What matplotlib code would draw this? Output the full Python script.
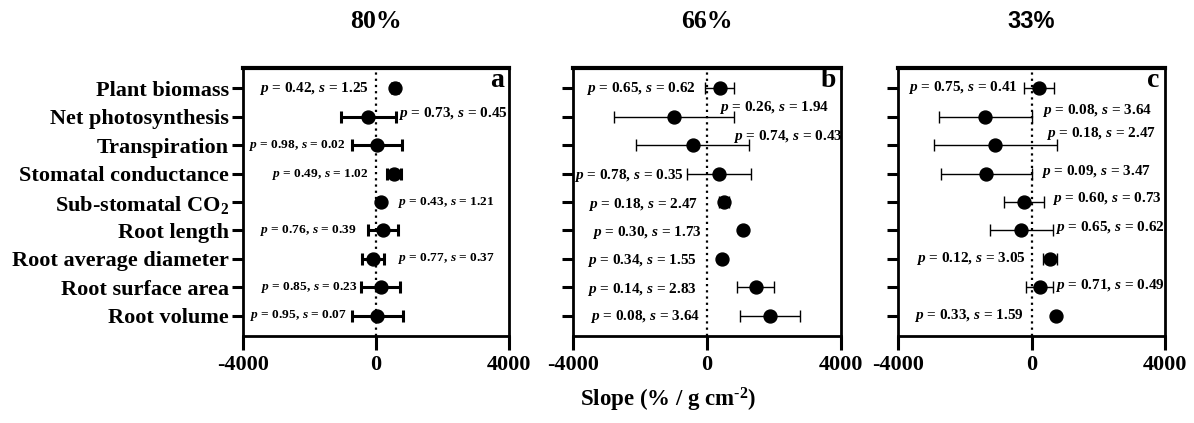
import matplotlib.pyplot as plt

plt.rcParams['font.family'] = 'Liberation Serif'
plt.rcParams['font.weight'] = 'bold'
plt.rcParams['mathtext.fontset'] = 'custom'
plt.rcParams['mathtext.rm'] = 'Liberation Serif:bold'
plt.rcParams['mathtext.it'] = 'Liberation Serif:italic:bold'
plt.rcParams['mathtext.bf'] = 'Liberation Serif:bold'

traits = ['Plant biomass', 'Net photosynthesis', 'Transpiration',
          'Stomatal conductance', r'Sub-stomatal CO$_2$', 'Root length',
          'Root average diameter', 'Root surface area', 'Root volume']

# slope estimates and error half-widths for each water level
slope_80 = [570, -230, 30, 540, 140, 200, -80, 140, 40]
err_80 = [80, 820, 760, 210, 40, 450, 330, 580, 760]
p_80 = ['0.42', '0.73', '0.98', '0.49', '0.43', '0.76', '0.77', '0.85', '0.95']
s_80 = ['1.25', '0.45', '0.02', '1.02', '1.21', '0.39', '0.37', '0.23', '0.07']

slope_66 = [380, -985, -430, 360, 510, 1065, 440, 1450, 1880]
err_66 = [440, 1800, 1690, 960, 150, 40, 40, 540, 900]
p_66 = ['0.65', '0.26', '0.74', '0.78', '0.18', '0.30', '0.34', '0.14', '0.08']
s_66 = ['0.62', '1.94', '0.43', '0.35', '2.47', '1.73', '1.55', '2.83', '3.64']

slope_33 = [220, -1380, -1080, -1350, -230, -300, 560, 240, 720]
err_33 = [440, 1390, 1830, 1370, 600, 950, 210, 390, 40]
p_33 = ['0.75', '0.08', '0.18', '0.09', '0.60', '0.65', '0.12', '0.71', '0.33']
s_33 = ['0.41', '3.64', '2.47', '3.47', '0.73', '0.62', '3.05', '0.49', '1.59']

titles = ['80%', '66%', '33%']
letters = ['a', 'b', 'c']

# where each p/s annotation sits: x anchor, vertical nudge (rows), side, font size
lab_x = [[-230, 670, -930, -230, 670, -580, 650, -550, -880],
         [-340, 360, 775, -690, -260, -160, -310, -310, -220],
         [-410, 310, 440, 270, 610, 710, -160, 710, -260]]
lab_dy = [[0, -0.1, 0, 0.03, 0, 0, 0, 0, 0],
          [0, -0.33, -0.3, 0.06, 0.1, 0.08, 0.05, 0.07, 0.03],
          [-0.03, -0.24, -0.42, -0.08, -0.14, -0.1, 0, -0.07, 0]]
lab_ha = [['right', 'left', 'right', 'right', 'left', 'right', 'left', 'right', 'right'],
          ['right', 'left', 'left', 'right', 'right', 'right', 'right', 'right', 'right'],
          ['right', 'left', 'left', 'left', 'left', 'left', 'right', 'left', 'right']]
lab_size = [[11, 11, 9.6, 9.6, 9.6, 9.6, 9.6, 9.6, 9.6],
            [11] * 9,
            [11] * 9]

panels = [(slope_80, err_80, p_80, s_80),
          (slope_66, err_66, p_66, s_66),
          (slope_33, err_33, p_33, s_33)]
bar_lw = [2.2, 1.0, 1.0]

# the two first headings are set in serif, the last one in sans
title_font = [['Liberation Serif'], ['Liberation Serif'], ['Liberation Sans']]
title_size = [18.5, 18.5, 17]

fig = plt.figure(figsize=(11.94, 4.23), dpi=100)
lefts = [243, 573, 898]
widths = [266, 268, 267]
ypos = list(range(len(traits)))

for k, (slope, err, pv, sv) in enumerate(panels):
    ax = fig.add_axes([lefts[k] / 1194, 87 / 423, widths[k] / 1194, 268 / 423])
    ax.axvline(0, color='black', lw=1.6, ls=(0, (1, 1.8)), zorder=1)
    ax.errorbar(slope, ypos, xerr=err, fmt='o', color='black', ms=9.3,
                elinewidth=bar_lw[k], capsize=4.4, capthick=bar_lw[k], zorder=3)
    for i in range(len(traits)):
        ax.text(lab_x[k][i], i + lab_dy[k][i],
                r'$\mathit{p}$ = ' + pv[i] + r', $\mathit{s}$ = ' + sv[i],
                ha=lab_ha[k][i], va='center', fontsize=lab_size[k][i],
                fontweight='bold')
    ax.set_xlim(-4000, 4000)
    ax.set_ylim(len(traits) - 0.28, -0.72)
    ax.set_xticks([-4000, 0, 4000])
    ax.set_xticklabels(['-4000', '0', '4000'], fontsize=16, fontweight='bold')
    ax.set_yticks(ypos)
    if k == 0:
        ax.set_yticklabels(traits, fontsize=16, fontweight='bold')
    else:
        ax.set_yticklabels([])
    ax.tick_params(axis='x', length=10, width=2.2, pad=4)
    ax.tick_params(axis='y', length=8, width=2.2, pad=2)
    for side in ['left', 'right', 'bottom']:
        ax.spines[side].set_linewidth(2)
    ax.spines['top'].set_linewidth(3)
    ax.text(0.98, 0.929, letters[k], transform=ax.transAxes, ha='right',
            va='baseline', fontsize=20, fontweight='bold')
    fig.text((lefts[k] + widths[k] / 2) / 1194, 1 - 21 / 423, titles[k],
             ha='center', va='center', fontsize=title_size[k],
             fontweight='bold', family=title_font[k])

fig.text(668 / 1194, 1 - 400 / 423, r'Slope (% / g cm$^{\text{-2}}$)',
         ha='center', va='center', fontsize=16.5, fontweight='bold')

fig.savefig('out.png', dpi=100)
